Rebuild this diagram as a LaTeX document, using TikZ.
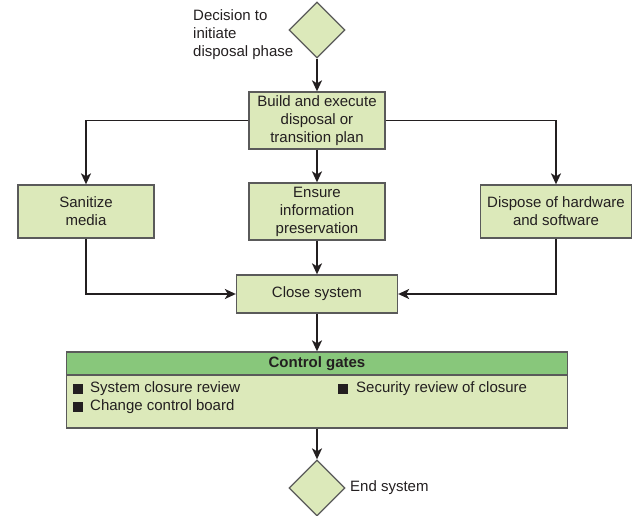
\documentclass[tikz,border=0pt]{standalone}
\usepackage{fontspec}
\setmainfont{Liberation Sans}
\usetikzlibrary{shapes.geometric,arrows.meta}
\definecolor{boxfill}{HTML}{DCE9BA}
\definecolor{headfill}{HTML}{88C77B}
\definecolor{edge}{HTML}{5A5A5A}
\definecolor{ink}{HTML}{231F20}
\tikzset{
  every node/.style={text=ink, font=\fontsize{15}{18}\selectfont},
  stepbox/.style={draw=edge, line width=1.3pt, fill=boxfill, rectangle, align=center, inner sep=0pt},
  decide/.style={draw=edge, line width=1.3pt, fill=boxfill, diamond, aspect=1, inner sep=0pt, minimum size=56pt},
  link/.style={draw=ink, line width=1.8pt, -{Stealth[length=11pt,width=10pt,inset=3pt]}},
  lbl/.style={align=left, inner sep=0pt},
  bullet/.style={fill=ink, inner sep=0pt, minimum size=10pt, rectangle}
}
\begin{document}
\begin{tikzpicture}[x=1pt,y=-1pt]
\useasboundingbox (0,0) rectangle (633,516);
\node[decide] (d1) at (317,30) {};
\node[lbl, anchor=west] (dtxt) at (193,35) {Decision to\\initiate\\disposal phase};
\node[stepbox, minimum width=136pt, minimum height=57pt] (build) at (317,120.5) {Build and execute\\disposal or\\transition plan};
\node[stepbox, minimum width=136pt, minimum height=53pt] (san) at (86,211.5) {Sanitize\\media};
\node[stepbox, minimum width=136pt, minimum height=57pt] (ens) at (317,211.5) {Ensure\\information\\preservation};
\node[stepbox, minimum width=151pt, minimum height=53pt] (disp) at (556,211.5) {Dispose of hardware\\and software};
\node[stepbox, minimum width=161pt, minimum height=38pt] (close) at (317,294) {Close system};
\node[stepbox, minimum width=501pt, minimum height=76pt] (cg) at (317,390) {};
\node[draw=edge, line width=1.3pt, fill=headfill, minimum width=501pt, minimum height=23pt, inner sep=0pt, anchor=north, font=\fontsize{15}{18}\selectfont\bfseries] (cgh) at (cg.north) {Control gates};
\node[bullet] (b1) at (78,389) {};
\node[lbl, anchor=west] (t1) at (90,389) {System closure review};
\node[bullet] (b2) at (78,407) {};
\node[lbl, anchor=west] (t2) at (90,407) {Change control board};
\node[bullet] (b3) at (343,389) {};
\node[lbl, anchor=west] (t3) at (356,389) {Security review of closure};
\node[decide] (d2) at (317,488) {};
\node[lbl, anchor=west] (etxt) at (350,488) {End system};
\draw[link] (d1.south) -- (build.north);
\draw[link] (build.west) -| (san.north);
\draw[link] (build.east) -| (disp.north);
\draw[link] (build.south) -- (ens.north);
\draw[link] (san.south) |- (close.west);
\draw[link] (disp.south) |- (close.east);
\draw[link] (ens.south) -- (close.north);
\draw[link] (close.south) -- (cgh.north);
\draw[link] (cg.south) -- (d2.north);
\end{tikzpicture}
\end{document}
